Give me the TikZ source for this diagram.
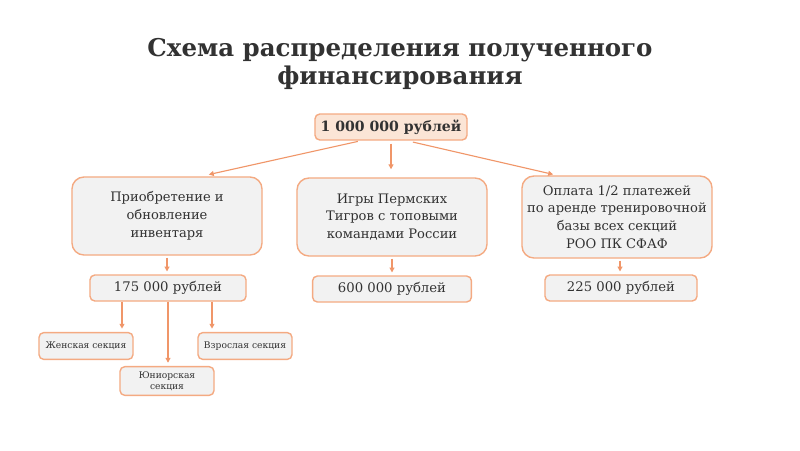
\documentclass[tikz,border=0pt]{standalone}
\usepackage{fontspec}
\setmainfont{DejaVu Serif}
\definecolor{boxorange}{RGB}{244,170,130}
\definecolor{arroworange}{RGB}{240,150,105}
\definecolor{peachfill}{RGB}{251,229,214}
\definecolor{greyfill}{RGB}{242,242,242}
\definecolor{textgrey}{RGB}{50,50,50}
\usetikzlibrary{arrows.meta,positioning,calc}

\tikzset{
  bigbox/.style={draw=boxorange, fill=greyfill, line width=1pt, rounded corners=0.3cm,
    minimum width=4.75cm, minimum height=1.95cm, align=center, text=textgrey,
    font=\fontsize{9.3}{12.7}\selectfont},
  sumbox/.style={draw=boxorange, fill=greyfill, line width=1pt, rounded corners=0.12cm,
    minimum width=3.9cm, minimum height=0.65cm, text=textgrey, font=\fontsize{9.4}{12}\selectfont},
  secbox/.style={draw=boxorange, fill=greyfill, line width=1pt, rounded corners=0.12cm,
    minimum width=2.35cm, minimum height=0.67cm, align=center, text=textgrey,
    font=\fontsize{6.5}{8}\selectfont},
  arr/.style={draw=arroworange, line width=0.8pt, -{Triangle[length=3.5pt,width=3.5pt]}}
}

\begin{document}
\begin{tikzpicture}[x=0.025cm, y=-0.025cm]
    \useasboundingbox (0,0) rectangle (800,450);

    % Title
    \node[font=\fontsize{17.4}{20.5}\selectfont\bfseries, text=textgrey, align=center] (title) at (400,64)
        {Схема распределения полученного\\финансирования};

    % Total sum
    \node[draw=boxorange, fill=peachfill, line width=1pt, rounded corners=0.12cm,
        minimum width=3.8cm, minimum height=0.65cm, text=textgrey,
        font=\fontsize{10}{12}\selectfont\bfseries] (top) at (391,127) {1 000 000 рублей};

    % Spending items
    \node[bigbox] (inv) at (167,216) {Приобретение и\\обновление\\инвентаря};
    \node[bigbox] (games) at (392,217) {Игры Пермских\\Тигров с топовыми\\командами России};
    \node[bigbox, minimum height=2.05cm] (rent) at (617,217)
        {Оплата 1/2 платежей\\по аренде тренировочной\\базы всех секций\\РОО ПК СФАФ};

    % Amounts
    \node[sumbox] (invsum) at (168,288) {175 000 рублей};
    \node[sumbox, minimum width=3.97cm] (gamessum) at (392,289) {600 000 рублей};
    \node[sumbox, minimum width=3.8cm] (rentsum) at (621,288) {225 000 рублей};

    % Sections
    \node[secbox] (women) at (86,346) {Женская секция};
    \node[secbox] (adult) at (245,346) {Взрослая секция};
    \node[secbox] (junior) at (167,381) {Юниорская\\секция};

    % Arrow start points
    \coordinate (rentout) at ($(rent.south)+(3,0)$);
    \coordinate (womenout) at ($(invsum.south)+(-46,0)$);
    \coordinate (adultout) at ($(invsum.south)+(44,0)$);

    % Arrows
    \draw[arr, shorten <=0.08cm, shorten >=0.2cm] ($(top.south)+(-30,0)$) -- ($(inv.north)+(34,0)$);
    \draw[arr, shorten <=0.07cm, shorten >=0.2cm] (top.south) -- (top.south |- games.north);
    \draw[arr, shorten <=0.15cm, shorten >=0.1cm] ($(top.south)+(16,0)$) -- ($(rent.north)+(-60,0)$);

    \draw[arr, shorten <=0.05cm, shorten >=0.07cm] (inv.south) -- (inv.south |- invsum.north);
    \draw[arr, shorten <=0.05cm, shorten >=0.07cm] (games.south) -- (games.south |- gamessum.north);
    \draw[arr, shorten <=0.05cm, shorten >=0.07cm] (rentout) -- (rentout |- rentsum.north);

    \draw[arr, shorten >=0.08cm] (womenout) -- (womenout |- women.north);
    \draw[arr, shorten >=0.08cm] (invsum.south) -- (invsum.south |- junior.north);
    \draw[arr, shorten >=0.08cm] (adultout) -- (adultout |- adult.north);
\end{tikzpicture}
\end{document}
